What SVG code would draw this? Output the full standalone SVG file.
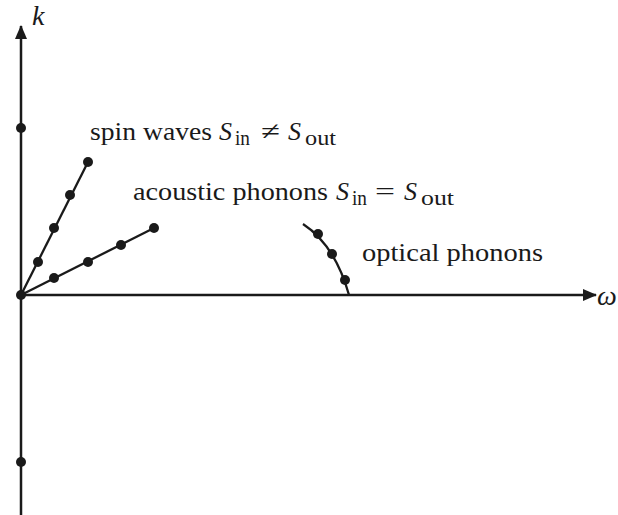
<svg xmlns="http://www.w3.org/2000/svg" width="618" height="515" viewBox="0 0 618 515">
<style>
.ax{stroke:#1a1a1a;stroke-width:2.5;fill:none}
.ln{stroke:#1a1a1a;stroke-width:2.3;fill:none}
.dot{fill:#1a1a1a}
text{font-family:"Liberation Serif","Times New Roman",serif;font-size:26px;fill:#1a1a1a}
.it{font-style:italic}
.sub{font-size:20px}
.axl{font-size:28px}
</style>
<defs>
<marker id="arr" viewBox="0 0 14 12" refX="13" refY="6" markerWidth="14" markerHeight="12" markerUnits="userSpaceOnUse" orient="auto">
<path d="M0,0 L14,6 L0,12 Z" fill="#1a1a1a"/>
</marker>
</defs>
<rect width="618" height="515" fill="#ffffff"/>
<g id="connectors">
<line class="ax" x1="21" y1="515" x2="21" y2="26" marker-end="url(#arr)"/>
<line class="ax" x1="21" y1="295" x2="596" y2="295" marker-end="url(#arr)"/>
<line class="ln" x1="21" y1="295" x2="88" y2="162"/>
<line class="ln" x1="21" y1="295" x2="154" y2="228"/>
<path class="ln" d="M303,224 Q335,245 349,295"/>
</g>
<g id="axis-k">
<text class="it axl" x="32" y="25">k</text>
<circle class="dot" cx="21" cy="128" r="5"/>
<circle class="dot" cx="21" cy="462" r="5"/>
<circle class="dot" cx="21" cy="295" r="5"/>
</g>
<g id="axis-omega">
<text class="it axl" x="597" y="305">ω</text>
</g>
<g id="spin-waves">
<circle class="dot" cx="38" cy="262" r="5"/>
<circle class="dot" cx="54" cy="228" r="5"/>
<circle class="dot" cx="70" cy="195" r="5"/>
<circle class="dot" cx="88" cy="162" r="5"/>
<text x="90" y="140" textLength="122" lengthAdjust="spacingAndGlyphs">spin waves</text>
<text class="it" x="219" y="140">S</text>
<text class="sub" x="235" y="145" textLength="15" lengthAdjust="spacingAndGlyphs">in</text>
<text x="261" y="140" textLength="19" lengthAdjust="spacingAndGlyphs">≠</text>
<text class="it" x="288" y="140">S</text>
<text class="sub" x="305" y="145" textLength="31" lengthAdjust="spacingAndGlyphs">out</text>
</g>
<g id="acoustic-phonons">
<circle class="dot" cx="54" cy="278" r="5"/>
<circle class="dot" cx="88" cy="262" r="5"/>
<circle class="dot" cx="121" cy="245" r="5"/>
<circle class="dot" cx="154" cy="228" r="5"/>
<text x="133" y="200" textLength="195" lengthAdjust="spacingAndGlyphs">acoustic phonons</text>
<text class="it" x="336" y="200">S</text>
<text class="sub" x="352" y="205" textLength="15" lengthAdjust="spacingAndGlyphs">in</text>
<text x="375" y="200" textLength="20" lengthAdjust="spacingAndGlyphs">=</text>
<text class="it" x="404" y="200">S</text>
<text class="sub" x="421" y="205" textLength="33" lengthAdjust="spacingAndGlyphs">out</text>
</g>
<g id="optical-phonons">
<circle class="dot" cx="318" cy="234" r="5"/>
<circle class="dot" cx="332" cy="254" r="5"/>
<circle class="dot" cx="345" cy="280" r="5"/>
<text x="362" y="261" textLength="181" lengthAdjust="spacingAndGlyphs">optical phonons</text>
</g>
</svg>
